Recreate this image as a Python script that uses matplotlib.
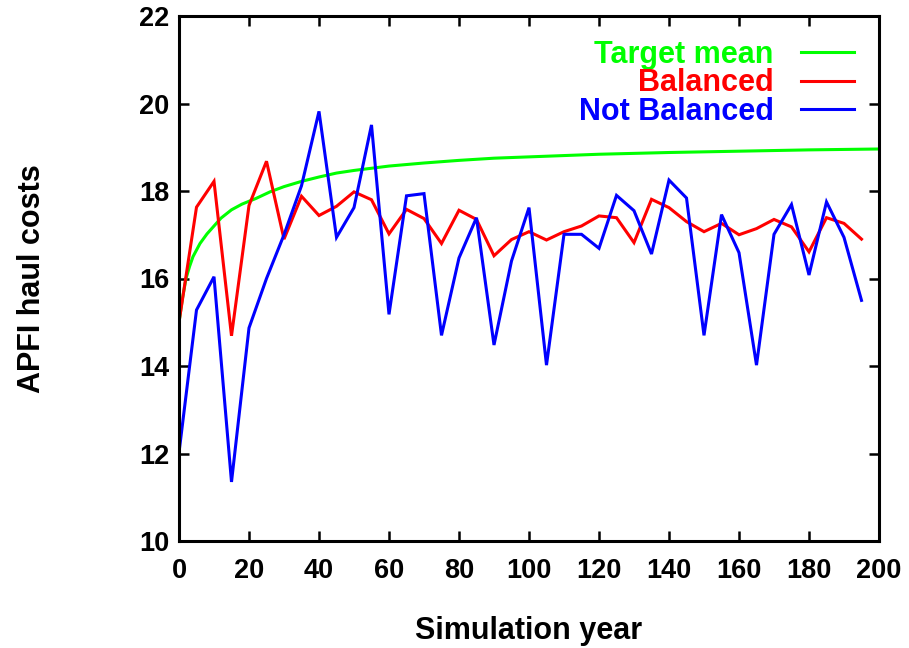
import matplotlib
matplotlib.use("Agg")
import matplotlib.pyplot as plt

years = [0, 5, 10, 15, 20, 25, 30, 35, 40, 45, 50, 55, 60, 65, 70, 75, 80, 85, 90, 95,
         100, 105, 110, 115, 120, 125, 130, 135, 140, 145, 150, 155, 160, 165, 170, 175,
         180, 185, 190, 195]

balanced = [15.0, 17.63, 18.22, 14.69, 17.67, 18.68, 16.9, 17.88, 17.44, 17.65,
            17.98, 17.8, 17.02, 17.58, 17.37, 16.8, 17.56, 17.35, 16.52, 16.89,
            17.07, 16.88, 17.07, 17.2, 17.43, 17.39, 16.82, 17.81, 17.62, 17.30,
            17.07, 17.26, 17.0, 17.14, 17.35, 17.18, 16.61, 17.39, 17.26, 16.9]

not_balanced = [12.02, 15.28, 16.04, 11.35, 14.87, 16.0, 17.0, 18.12, 19.82, 16.94,
                17.62, 19.51, 15.18, 17.89, 17.94, 14.70, 16.47, 17.39, 14.48, 16.40,
                17.62, 14.02, 17.01, 17.01, 16.69, 17.90, 17.55, 16.56, 18.25, 17.84,
                14.70, 17.46, 16.59, 14.02, 17.01, 17.69, 16.08, 17.75, 16.94, 15.50]

target_years = [0, 1, 2, 3, 4, 6, 8, 10, 12, 15, 18, 22, 26, 30, 35, 40, 45, 50,
                60, 70, 80, 90, 100, 120, 140, 160, 180, 200]
target_mean = [15.0, 15.55, 16.0, 16.27, 16.5, 16.8, 17.02, 17.2, 17.38, 17.57, 17.7,
               17.83, 17.98, 18.1, 18.22, 18.32, 18.41, 18.47, 18.57, 18.64, 18.7,
               18.75, 18.78, 18.84, 18.88, 18.91, 18.94, 18.96]

x_ticks = [0, 20, 40, 60, 80, 100, 120, 140, 160, 180, 200]
y_ticks = [10, 12, 14, 16, 18, 20, 22]

plt.rcParams['font.family'] = ['Liberation Sans', 'DejaVu Sans']
plt.rcParams['font.weight'] = 'bold'

fig = plt.figure(figsize=(9.09, 6.48), dpi=100)
ax = fig.add_axes([179 / 909, 1 - 541 / 648, 700 / 909, 525 / 648])

lw = 2.2
ax.plot(target_years, target_mean, color='#00ff00', lw=lw, label='Target mean',
        solid_joinstyle='miter')
ax.plot(years, balanced, color='#ff0000', lw=lw, label='Balanced',
        solid_joinstyle='miter')
ax.plot(years, not_balanced, color='#0000ff', lw=lw, label='Not Balanced',
        solid_joinstyle='miter')

ax.set_xlim(0, 200)
ax.set_ylim(10, 22)
ax.set_xticks(x_ticks)
ax.set_yticks(y_ticks)
ax.tick_params(direction='in', length=7, width=1.8, top=True, right=True,
               labelsize=19.5)
ax.tick_params(axis='x', pad=12)
ax.tick_params(axis='y', pad=7)
for lab in ax.get_xticklabels() + ax.get_yticklabels():
    lab.set_fontweight('bold')
for s in ax.spines.values():
    s.set_linewidth(2.2)

ax.set_xlabel('Simulation year', fontsize=22, fontweight='bold', labelpad=23)
ax.set_ylabel('APFI haul costs', fontsize=22, fontweight='bold', labelpad=66)

leg = ax.legend(loc='upper right', bbox_to_anchor=(0.965, 0.955), frameon=False,
                markerfirst=False, prop={'size': 22, 'weight': 'bold'},
                handlelength=1.75, handletextpad=0.9, labelspacing=-0.04,
                borderpad=0, borderaxespad=0, labelcolor='linecolor')

fig.savefig('out.png', dpi=100)
